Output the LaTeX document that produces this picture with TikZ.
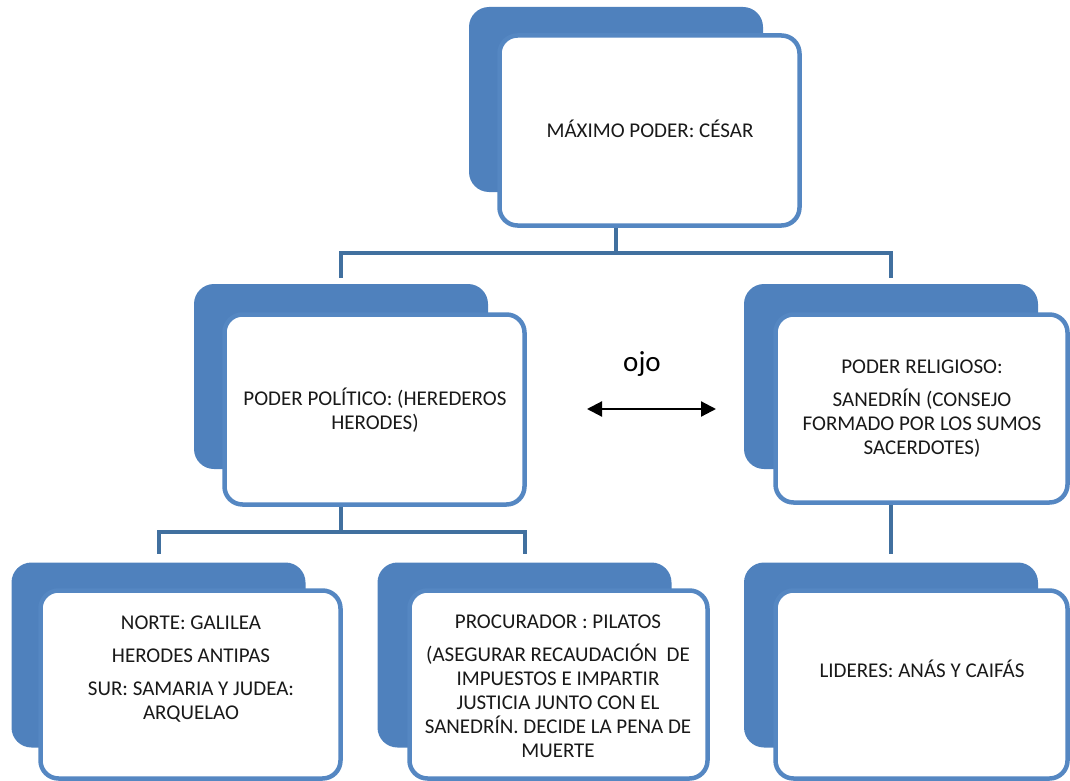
\documentclass[tikz,border=0pt]{standalone}
\usepackage{fontspec}
\setmainfont{Carlito}
\usetikzlibrary{arrows.meta}
\definecolor{backblue}{HTML}{4F81BD}
\definecolor{frameblue}{HTML}{5587C2}
\definecolor{connblue}{HTML}{41709F}
\tikzset{
  backbox/.style={fill=backblue, draw=none, rounded corners=20pt, minimum width=294pt, minimum height=185pt, inner sep=0pt},
  frontbox/.style={fill=white, draw=frameblue, line width=4.5pt, rounded corners=18pt, inner sep=0pt},
  conn/.style={draw=connblue, line width=4pt, line join=miter, line cap=butt},
  lbl/.style={font=\fontsize{21}{24}\selectfont, align=center, inner sep=0pt, text=black!90},
}
\begin{document}
\begin{tikzpicture}[x=1pt,y=-1pt]
\useasboundingbox (0,0) rectangle (1070,781);
% back shapes
\node[backbox] (b1) at (616,99.5) {};
\node[backbox] (b2) at (341,376.5) {};
\node[backbox] (b3) at (891,376.5) {};
\node[backbox] (b4) at (158.5,655) {};
\node[backbox] (b5) at (524.5,655) {};
\node[backbox] (b6) at (891,655) {};
% front boxes
\node[frontbox, minimum width=300pt, minimum height=190pt] (f1) at (649.5,130.5) {};
\node[frontbox, minimum width=300pt, minimum height=190pt] (f2) at (374.5,409.5) {};
\node[frontbox, minimum width=292pt, minimum height=188pt] (f3) at (921.5,408.5) {};
\node[frontbox, minimum width=300pt, minimum height=188pt] (f4) at (190.5,684.5) {};
\node[frontbox, minimum width=298pt, minimum height=188pt] (f5) at (558.5,684.5) {};
\node[frontbox, minimum width=292pt, minimum height=188pt] (f6) at (921.5,684.5) {};
% connectors
\coordinate (j1) at (616,253);
\coordinate (j2) at (341,532);
\draw[conn] (b1.south |- f1.south) -- (j1);
\draw[conn, shorten >=6pt] (j1) -| (b2.north);
\draw[conn, shorten >=6pt] (j1) -| (b3.north);
\draw[conn] (b2.south |- f2.south) -- (j2);
\draw[conn, shorten >=8pt] (j2) -| (b4.north);
\draw[conn, shorten >=8pt] (j2) -| (b5.north);
\draw[conn, shorten >=8pt] (b3.south |- f3.south) -- (b6.north);
% texts
\node[lbl, anchor=base] (t1) at (650,137) {MÁXIMO PODER: CÉSAR};
\node[lbl] (t2) at (375,410) {PODER POLÍTICO: (HEREDEROS\\HERODES)};
\node[lbl] (t3) at (922,409) {PODER RELIGIOSO:\\[9pt]SANEDRÍN (CONSEJO\\FORMADO POR LOS SUMOS\\SACERDOTES)};
\node[lbl] (t4) at (191,669) {NORTE: GALILEA\\[9pt]HERODES ANTIPAS\\[9pt]SUR: SAMARIA Y JUDEA:\\ARQUELAO};
\node[lbl] (t5) at (558,686) {PROCURADOR : PILATOS\\[9pt](ASEGURAR RECAUDACIÓN\ \ DE\\IMPUESTOS E IMPARTIR\\JUSTICIA JUNTO CON EL\\SANEDRÍN. DECIDE LA PENA DE\\MUERTE};
\node[lbl, anchor=base] (t6) at (922,677) {LIDERES: ANÁS Y CAIFÁS};
% ojo and arrow
\node[font=\fontsize{29}{34}\selectfont, inner sep=0pt, anchor=base] (ojo) at (642,371) {ojo};
\coordinate (aL) at (587,409);
\coordinate (aR) at (716,409);
\draw[line width=2.2pt, {Triangle[length=15pt,width=15pt]}-{Triangle[length=15pt,width=15pt]}] (aL) -- (aR);
\end{tikzpicture}
\end{document}
